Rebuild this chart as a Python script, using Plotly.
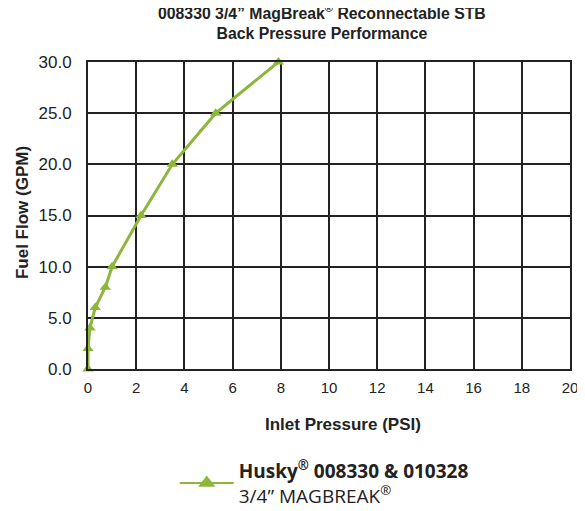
import plotly.graph_objects as go

pressure_psi = [0, 0, 0.08, 0.3, 0.72, 1.0, 2.2, 3.5, 5.3, 7.9]
flow_gpm = [0, 2, 4, 6, 8, 10, 15, 20, 25, 30]
x_ticks = [0, 2, 4, 6, 8, 10, 12, 14, 16, 18, 20]
y_ticks = [0, 5, 10, 15, 20, 25, 30]
y_tick_labels = ["0.0", "5.0", "10.0", "15.0", "20.0", "25.0", "30.0"]
series_name = "<b>Husky<sup>®</sup> 008330 &amp; 010328</b><br>3/4” MAGBREAK<sup>®</sup>"

green = "#8DB63C"
ink = "#222222"
arial = "Liberation Sans, Arial"

fig = go.Figure()
fig.add_trace(go.Scatter(
    x=pressure_psi, y=flow_gpm, mode="lines+markers",
    line=dict(color=green, width=3),
    marker=dict(symbol="triangle-up", size=10, color=green),
    showlegend=False, cliponaxis=False,
))
# legend entry with a larger symbol
fig.add_trace(go.Scatter(
    x=[None], y=[None], mode="lines+markers",
    line=dict(color=green, width=2),
    marker=dict(symbol="triangle-up", size=15, color=green),
    name=series_name, showlegend=True,
))

fig.update_layout(
    width=577, height=503,
    margin=dict(l=80, r=15, t=54, b=142, autoexpand=False),
    paper_bgcolor="white", plot_bgcolor="white",
    xaxis=dict(
        range=[0, 20], tickvals=x_ticks, showgrid=True, gridcolor=ink, gridwidth=2,
        showline=True, linecolor=ink, linewidth=2, mirror=True, zeroline=False,
        ticks="", automargin=False, ticklabelstandoff=4,
        tickfont=dict(family=arial, size=15, color=ink),
    ),
    yaxis=dict(
        range=[0, 30], tickvals=y_ticks, ticktext=y_tick_labels, showgrid=True,
        gridcolor=ink, gridwidth=2, showline=True, linecolor=ink, linewidth=2,
        mirror=True, zeroline=False, ticks="", automargin=False, ticklabelstandoff=11,
        tickfont=dict(family=arial, size=17, color=ink),
    ),
    annotations=[
        dict(text="<b>008330 3/4” MagBreak<sup>®</sup> Reconnectable STB<br>Back Pressure Performance</b>",
             xref="paper", yref="paper", x=0.485, y=1.13, xanchor="center", yanchor="middle",
             showarrow=False, font=dict(family=arial, size=15.8, color=ink)),
        dict(text="<b>Inlet Pressure (PSI)</b>", xref="paper", yref="paper",
             x=0.529, y=-0.182, xanchor="center", yanchor="middle",
             showarrow=False, font=dict(family=arial, size=17, color=ink)),
        dict(text="<b>Fuel Flow (GPM)</b>", xref="paper", yref="paper", textangle=-90,
             x=-0.137, y=0.511, xanchor="center", yanchor="middle",
             showarrow=False, font=dict(family=arial, size=17, color=ink)),
    ],
    showlegend=True,
    legend=dict(
        x=0.18, y=-0.27, xanchor="left", yanchor="top",
        font=dict(family="Open Sans", size=19, color=ink),
        itemwidth=54, bgcolor="rgba(0,0,0,0)",
    ),
)

fig.write_html("out.html")
